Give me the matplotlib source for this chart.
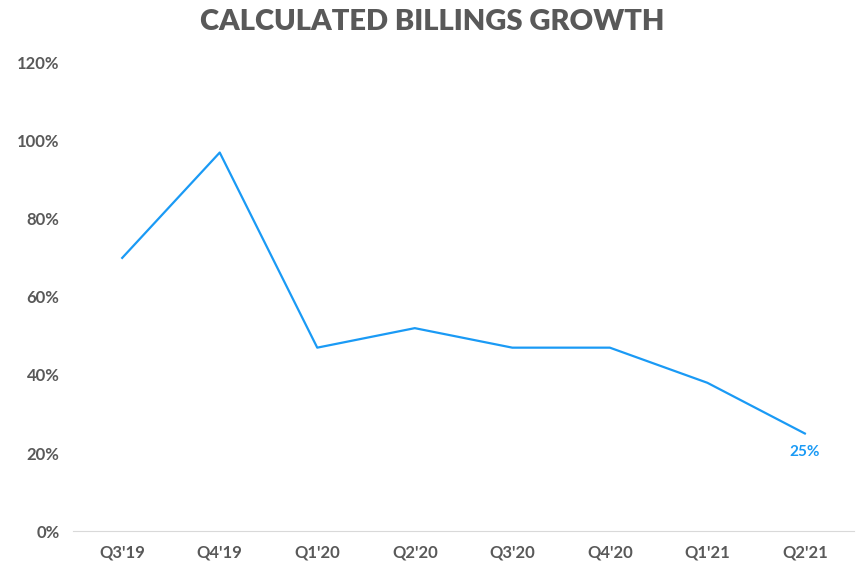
import matplotlib
matplotlib.use("Agg")
import matplotlib.pyplot as plt

quarters = ["Q3'19", "Q4'19", "Q1'20", "Q2'20", "Q3'20", "Q4'20", "Q1'21", "Q2'21"]
growth = [70, 97, 47, 52, 47, 47, 38, 25]
yticks = [0, 20, 40, 60, 80, 100, 120]

plt.rcParams['font.family'] = ['Lato', 'DejaVu Sans']
gray = '#595959'
blue = '#1a9af5'

fig = plt.figure(figsize=(8.64, 5.76), dpi=100)
ax = fig.add_axes([0.085, 0.078, 0.903, 0.813])
x = list(range(len(quarters)))
ax.plot(x, growth, color=blue, linewidth=1.6)
ax.text(x[-1], growth[-1] - 3, f"{growth[-1]}%", color=blue, fontsize=11,
        fontweight='bold', ha='center', va='top')

ax.set_xlim(-0.5, len(quarters) - 0.5)
ax.set_ylim(0, 120)
ax.set_xticks(x)
ax.set_xticklabels(quarters)
ax.set_yticks(yticks)
ax.set_yticklabels([f"{v}%" for v in yticks])
ax.tick_params(length=0, labelsize=12, colors=gray, pad=10)
for lbl in ax.get_xticklabels() + ax.get_yticklabels():
    lbl.set_fontweight('bold')
for s in ['top', 'right', 'left']:
    ax.spines[s].set_visible(False)
ax.spines['bottom'].set_color('#d9d9d9')

fig.suptitle("CALCULATED BILLINGS GROWTH", y=0.985, fontsize=21,
             fontweight='heavy', color=gray)
fig.savefig("out.png")
